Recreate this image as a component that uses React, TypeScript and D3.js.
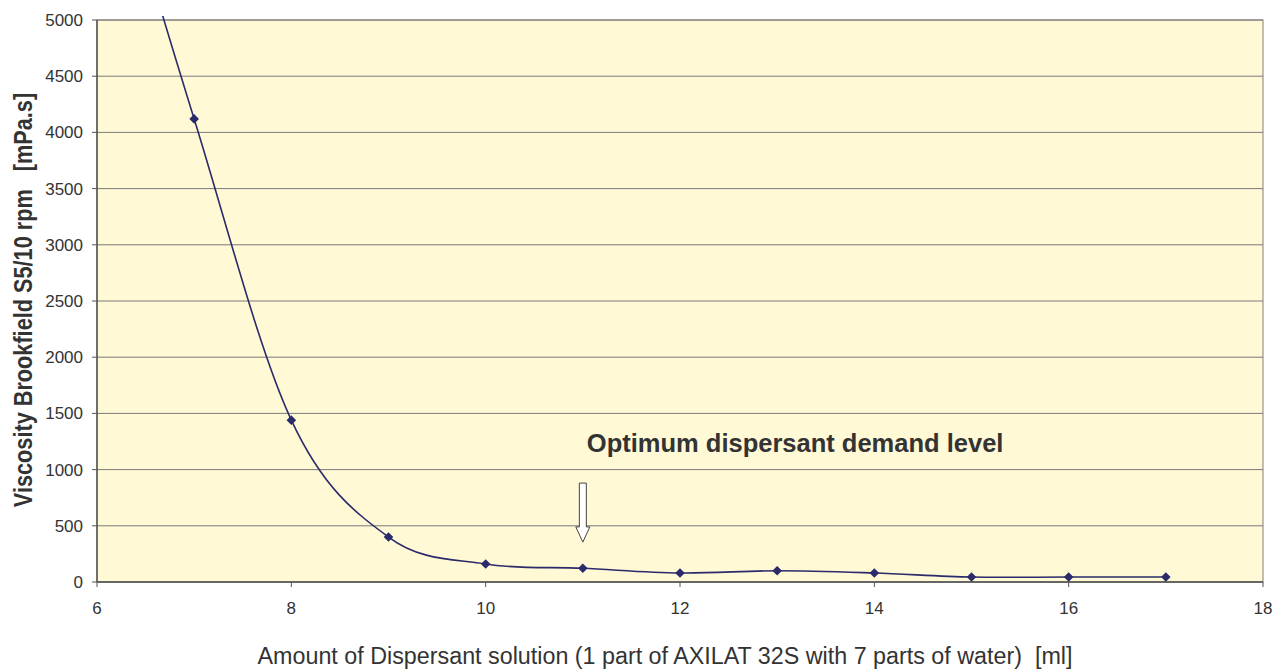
import React from 'react'
import * as d3 from 'd3'

// dispersant amount [ml] and Brookfield viscosity [mPa.s]
const amounts = [6, 7, 8, 9, 10, 11, 12, 13, 14, 15, 16, 17]
const viscosity = [7000, 4120, 1440, 400, 160, 122, 80, 100, 80, 44, 44, 44]

const xTicks = [6, 8, 10, 12, 14, 16, 18]
const yTicks = [0, 500, 1000, 1500, 2000, 2500, 3000, 3500, 4000, 4500, 5000]

const xTitle = 'Amount of Dispersant solution (1 part of AXILAT 32S with 7 parts of water)  [ml]'
const yTitle = 'Viscosity Brookfield S5/10 rpm   [mPa.s]'
const note = 'Optimum dispersant demand level'
const optimumAt = 11

const width = 1276
const height = 671
const margin = { top: 20, right: 13, bottom: 89, left: 97 }
const font = '"Liberation Sans", Arial, sans-serif'

export default function App() {
  const innerW = width - margin.left - margin.right
  const innerH = height - margin.top - margin.bottom

  const x = d3.scaleLinear().domain([6, 18]).range([0, innerW])
  const y = d3.scaleLinear().domain([0, 5000]).range([innerH, 0])

  const points = amounts.map((a, i) => [x(a), y(viscosity[i])] as [number, number])
  const line = d3.line().curve(d3.curveCardinal.tension(0))(points) ?? ''
  const marker = d3.symbol(d3.symbolSquare, 46)() ?? ''

  // block arrow over the optimum point
  const ax = x(optimumAt)
  const arrowTop = y(880)
  const headStart = y(490)
  const tip = y(355)
  const arrow = `M${ax - 3.5},${arrowTop} L${ax + 3.5},${arrowTop} L${ax + 3.5},${headStart} L${ax + 7},${headStart} L${ax},${tip} L${ax - 7},${headStart} L${ax - 3.5},${headStart} Z`

  return (
    <svg width={width} height={height} style={{ position: 'absolute', left: 0, top: 0 }} fontFamily={font}>
      <defs>
        <clipPath id="plot-clip">
          <rect x={0} y={-4} width={innerW} height={innerH + 4} />
        </clipPath>
      </defs>
      <g transform={`translate(${margin.left},${margin.top})`}>
        <rect width={innerW} height={innerH} fill="#FFF9D6" stroke="#808080" strokeWidth={1} />
        {yTicks.map((t) => (
          <g key={t}>
            <line x1={0} x2={innerW} y1={y(t)} y2={y(t)} stroke="#7a7a7a" strokeWidth={1} />
            <line x1={-5} x2={0} y1={y(t)} y2={y(t)} stroke="#555" />
            <text x={-14} y={y(t)} dy="0.35em" textAnchor="end" fontSize={17} fill="#333">
              {t}
            </text>
          </g>
        ))}
        {xTicks.map((t) => (
          <g key={t}>
            <line x1={x(t)} x2={x(t)} y1={innerH} y2={innerH + 5} stroke="#555" />
            <text x={x(t)} y={innerH + 32} textAnchor="middle" fontSize={17} fill="#333">
              {t}
            </text>
          </g>
        ))}
        <line x1={0} x2={0} y1={0} y2={innerH} stroke="#555" strokeWidth={1.5} />
        <line x1={0} x2={innerW} y1={innerH} y2={innerH} stroke="#555" strokeWidth={1.5} />

        <g clipPath="url(#plot-clip)">
          <path d={line} fill="none" stroke="#2b2b6b" strokeWidth={1.6} />
          {points.map(([px, py], i) => (
            <path key={i} d={marker} transform={`translate(${px},${py}) rotate(45)`} fill="#2b2b6b" />
          ))}
        </g>

        <path d={arrow} fill="#fff" stroke="#444" strokeWidth={1} />
        <text x={ax + 4} y={y(1160)} fontSize={25.5} fontWeight="bold" fill="#333">
          {note}
        </text>
      </g>
      <text
        transform={`translate(31.5,${margin.top + innerH / 2 - 1}) rotate(-90) scale(1,1.15)`}
        textAnchor="middle"
        fontSize={21.7}
        fontWeight="bold"
        fill="#333"
        style={{ whiteSpace: 'pre' }}
      >
        {yTitle}
      </text>
      <text
        x={665}
        y={664}
        textAnchor="middle"
        fontSize={23.3}
        fill="#333"
        style={{ whiteSpace: 'pre' }}
      >
        {xTitle}
      </text>
    </svg>
  )
}
